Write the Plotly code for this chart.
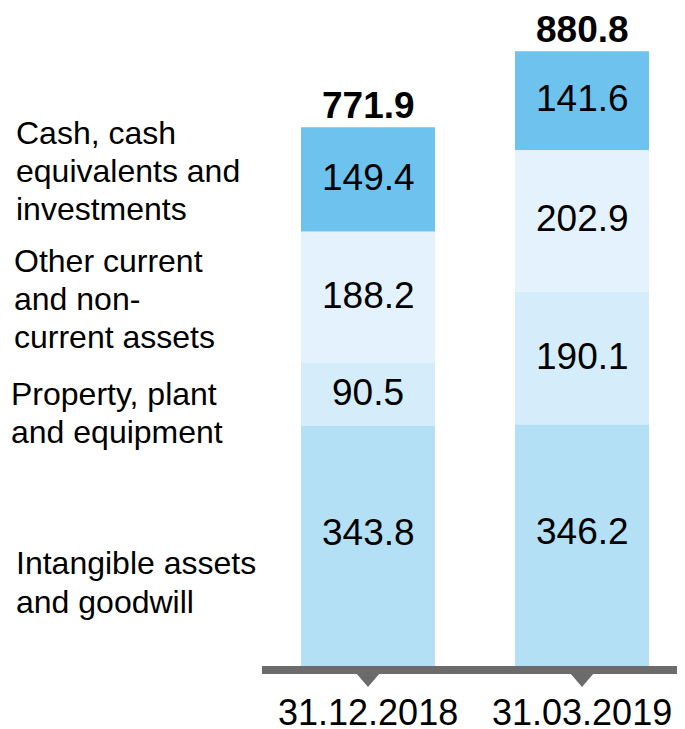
import plotly.graph_objects as go

# page body has an 8px margin: figure is drawn at (8, 8)
OFF = 8
W, H = 685 - OFF, 729 - OFF

categories = ["31.12.2018", "31.03.2019"]
series_names = [
    "Intangible assets and goodwill",
    "Property, plant and equipment",
    "Other current and non-current assets",
    "Cash, cash equivalents and investments",
]
intangible = [343.8, 346.2]
ppe = [90.5, 190.1]
other_assets = [188.2, 202.9]
cash = [149.4, 141.6]
totals = [771.9, 880.8]

series_values = [intangible, ppe, other_assets, cash]
series_colors = ["#b3e0f5", "#d5edfa", "#e3f2fc", "#6dc3ee"]
label_lines = [
    ["Intangible assets", "and goodwill"],
    ["Property, plant", "and equipment"],
    ["Other current", "and non-", "current assets"],
    ["Cash, cash", "equivalents and", "investments"],
]
# left-label line centres (reference pixel y) and left edge (reference pixel x)
label_y = [[563, 602], [394, 432], [261, 299, 337], [133, 171, 209]]
label_x = [17, 12, 15, 17]

FONT = "Liberation Sans, Arial, sans-serif"

# plot area geometry (reference pixels)
x_left, x_right = 262, 685
y_base = 666
px_per_unit = 0.698
ymax = (y_base - OFF) / px_per_unit

fig = go.Figure()
base = [0.0] * len(categories)
annotations = []
for name, vals, col in zip(series_names, series_values, series_colors):
    fig.add_trace(go.Bar(
        x=list(range(len(categories))), y=vals, base=base[:], name=name,
        marker=dict(color=col, line=dict(width=0)), width=0.626,
        hoverinfo="skip",
    ))
    for i, v in enumerate(vals):
        shift = 12 if name == series_names[0] else 0
        annotations.append(dict(
            x=i, y=base[i] + v / 2, xref="x", yref="y", text=f"{v:.1f}",
            showarrow=False, font=dict(family=FONT, size=37, color="#000000"),
            xanchor="center", yanchor="middle", yshift=shift + 2,
        ))
    base = [b + v for b, v in zip(base, vals)]

for i, t in enumerate(totals):
    annotations.append(dict(
        x=i, y=t, xref="x", yref="y", text=f"<b>{t:.1f}</b>",
        showarrow=False, font=dict(family=FONT, size=37, color="#000000"),
        xanchor="center", yanchor="middle", yshift=22,
    ))

for i, c in enumerate(categories):
    annotations.append(dict(
        x=i, y=0, xref="x", yref="y", text=c, showarrow=False,
        font=dict(family=FONT, size=36, color="#000000"),
        xanchor="center", yanchor="middle", valign="middle",
        height=30, borderpad=0, yshift=-46,
    ))

for lines, ys, lx in zip(label_lines, label_y, label_x):
    for line, py in zip(lines, ys):
        annotations.append(dict(
            x=(lx - OFF - 3) / W, y=1 - (py - OFF) / H, xref="paper", yref="paper",
            text=line, showarrow=False,
            font=dict(family=FONT, size=32, color="#000000"),
            xanchor="left", yanchor="middle",
        ))

shapes = []
# axis line
shapes.append(dict(type="rect", xref="paper", yref="paper",
                   x0=(x_left - OFF) / W, x1=1,
                   y0=1 - (674 - OFF) / H, y1=1 - (y_base - OFF) / H,
                   fillcolor="#6b6b6b", line=dict(width=0), layer="above"))
# triangle tick markers under each category
xr = [-0.4953, 1.4813]
unit = (x_right - x_left) / (xr[1] - xr[0])
half = 12 / unit
for i in range(len(categories)):
    ytop = 1 - (673 - OFF) / H
    ybot = 1 - (687 - OFF) / H
    shapes.append(dict(type="path", xref="x", yref="paper",
                       path=f"M {i - half},{ytop} L {i + half},{ytop} L {i},{ybot} Z",
                       fillcolor="#6b6b6b", line=dict(width=0)))

fig.update_layout(
    width=W, height=H, barmode="overlay", showlegend=False,
    margin=dict(l=0, r=0, t=0, b=0),
    paper_bgcolor="white", plot_bgcolor="white",
    xaxis=dict(domain=[(x_left - OFF) / W, 1], range=xr,
               showticklabels=False, showgrid=False, zeroline=False,
               showline=False, ticks=""),
    yaxis=dict(domain=[1 - (y_base - OFF) / H, 1], range=[0, ymax],
               showticklabels=False, showgrid=False, zeroline=False,
               showline=False, ticks=""),
    annotations=annotations, shapes=shapes,
)

fig.write_html("out.html")
